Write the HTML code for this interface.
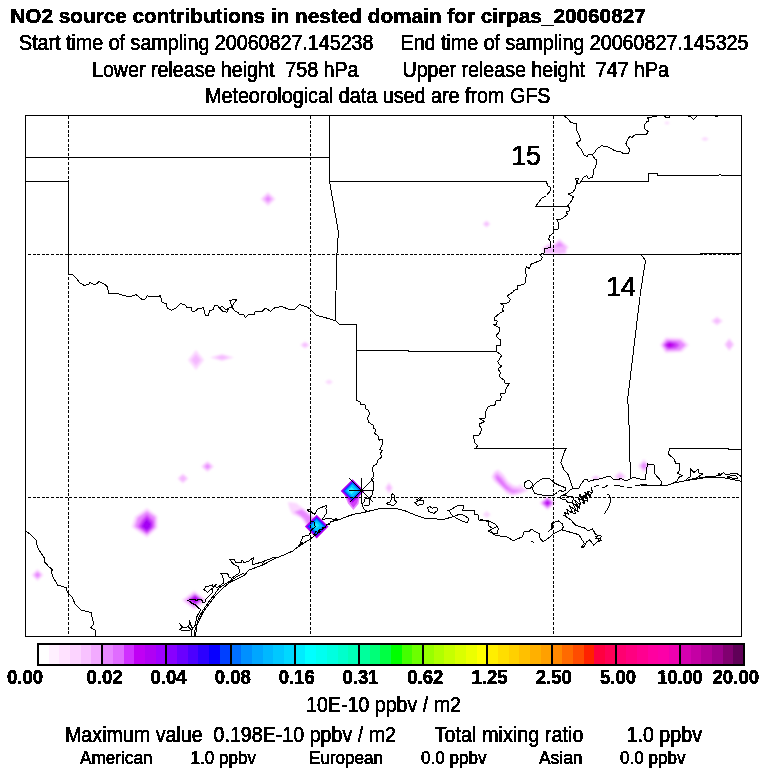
<!DOCTYPE html>
<html lang="en"><head><meta charset="utf-8"><title>NO2 source contributions in nested domain for cirpas_20060827</title>
<style>html,body{margin:0;padding:0;background:#fff;}body{width:768px;height:768px;overflow:hidden;}svg{display:block;}text{font-family:"Liberation Sans",Arial,Helvetica,sans-serif;fill:#000;white-space:pre;stroke:#000;stroke-width:0.6px;stroke-linejoin:round;}text.b{stroke-width:0.5px;}</style></head><body>
<svg width="768" height="768" viewBox="0 0 768 768">
<defs><filter id="bl" x="-30%" y="-30%" width="160%" height="160%"><feGaussianBlur stdDeviation="0.9"/></filter><filter id="bl2" x="-30%" y="-30%" width="160%" height="160%"><feGaussianBlur stdDeviation="0.55"/></filter><filter id="th" filterUnits="userSpaceOnUse" x="0" y="0" width="768" height="768" color-interpolation-filters="sRGB"><feComponentTransfer><feFuncA type="discrete" tableValues="0 0 1 1"/></feComponentTransfer></filter><clipPath id="fr"><rect x="26" y="116" width="715" height="520"/></clipPath></defs>
<rect x="0" y="0" width="768" height="768" fill="#ffffff"/>
<g clip-path="url(#fr)"><g filter="url(#bl)">
<polygon points="260.5,199.0 268.0,192.0 275.5,199.0 268.0,206.0" fill="#fbd8ff"/>
<polygon points="262.6,199.0 268.0,194.0 273.4,199.0 268.0,204.0" fill="#f4b8ff"/>
<polygon points="264.8,199.0 268.0,196.0 271.2,199.0 268.0,202.0" fill="#e888ff"/>
<polygon points="482.5,224.0 486.5,220.5 490.5,224.0 486.5,227.5" fill="#fbd8ff"/>
<polygon points="484.2,224.0 486.5,222.0 488.8,224.0 486.5,226.0" fill="#f4b8ff"/>
<polygon points="550.0,247.2 559.5,238.7 569.0,247.2 559.5,255.7" fill="#fbd8ff"/>
<polygon points="552.0,247.2 559.5,240.5 567.0,247.2 559.5,253.9" fill="#f4b8ff"/>
<polygon points="554.0,247.2 559.5,242.3 565.0,247.2 559.5,252.1" fill="#e888ff"/>
<polygon points="556.1,247.2 559.5,244.1 562.9,247.2 559.5,250.3" fill="#e888ff"/>
<polygon points="541.5,248.8 549.0,243.3 556.5,248.8 549.0,254.3" fill="#fbd8ff"/>
<polygon points="543.6,248.8 549.0,244.9 554.4,248.8 549.0,252.7" fill="#f4b8ff"/>
<polygon points="545.8,248.8 549.0,246.4 552.2,248.8 549.0,251.2" fill="#f4b8ff"/>
<polygon points="545.0,248.0 566.0,246.0 566.0,253.6 544.0,253.6" fill="#f4b8ff"/>
<polygon points="300.0,345.0 305.0,341.5 310.0,345.0 305.0,348.5" fill="#fbd8ff"/>
<polygon points="302.1,345.0 305.0,343.0 307.9,345.0 305.0,347.0" fill="#f4b8ff"/>
<polygon points="325.0,382.0 329.0,379.5 333.0,382.0 329.0,384.5" fill="#fbd8ff"/>
<polygon points="188.0,360.0 196.0,350.0 204.0,360.0 196.0,370.0" fill="#fbd8ff"/>
<polygon points="191.4,360.0 196.0,354.2 200.6,360.0 196.0,365.8" fill="#f4b8ff"/>
<polygon points="210.0,357.5 222.0,354.0 234.0,357.5 222.0,361.0" fill="#fbd8ff"/>
<polygon points="215.1,357.5 222.0,355.5 228.9,357.5 222.0,359.5" fill="#f4b8ff"/>
<polygon points="201.0,466.5 207.5,461.0 214.0,466.5 207.5,472.0" fill="#fbd8ff"/>
<polygon points="202.8,466.5 207.5,462.6 212.2,466.5 207.5,470.4" fill="#f4b8ff"/>
<polygon points="204.7,466.5 207.5,464.1 210.3,466.5 207.5,468.9" fill="#e888ff"/>
<polygon points="177.4,478.5 182.9,473.5 188.4,478.5 182.9,483.5" fill="#fbd8ff"/>
<polygon points="179.0,478.5 182.9,474.9 186.8,478.5 182.9,482.1" fill="#f4b8ff"/>
<polygon points="180.5,478.5 182.9,476.3 185.3,478.5 182.9,480.7" fill="#f4b8ff"/>
<polygon points="31.5,575.0 37.5,569.0 43.5,575.0 37.5,581.0" fill="#fbd8ff"/>
<polygon points="34.0,575.0 37.5,571.5 41.0,575.0 37.5,578.5" fill="#e888ff"/>
<polygon points="660.0,345.0 665.5,337.5 682.0,338.0 689.0,345.0 682.0,352.0 665.5,353.0" fill="#fbd8ff"/>
<polygon points="662.0,345.0 666.5,339.5 680.0,340.0 686.0,345.0 680.0,350.5 666.5,351.0" fill="#e888ff"/>
<polygon points="664.0,345.0 667.5,341.5 676.0,342.0 680.0,345.0 676.0,348.5 667.5,349.0" fill="#d040f8"/>
<polygon points="664.5,345.0 670.0,341.5 675.5,345.0 670.0,348.5" fill="#b800f0"/>
<polygon points="666.8,345.0 670.0,343.0 673.2,345.0 670.0,347.0" fill="#c000ec"/>
<polygon points="711.0,321.0 717.0,316.5 723.0,321.0 717.0,325.5" fill="#fbd8ff"/>
<polygon points="713.5,321.0 717.0,318.4 720.5,321.0 717.0,323.6" fill="#f4b8ff"/>
<polygon points="724.3,344.6 729.3,338.1 734.3,344.6 729.3,351.1" fill="#fbd8ff"/>
<polygon points="725.7,344.6 729.3,339.9 732.9,344.6 729.3,349.3" fill="#f4b8ff"/>
<polygon points="727.1,344.6 729.3,341.8 731.5,344.6 729.3,347.4" fill="#f4b8ff"/>
<polygon points="638.0,466.0 644.0,459.0 650.0,466.0 644.0,473.0" fill="#fbd8ff"/>
<polygon points="640.5,466.0 644.0,462.0 647.5,466.0 644.0,470.0" fill="#e888ff"/>
<polygon points="385.0,488.0 389.0,482.0 393.0,488.0 389.0,494.0" fill="#fbd8ff"/>
<polygon points="386.7,488.0 389.0,484.6 391.3,488.0 389.0,491.4" fill="#f4b8ff"/>
<polygon points="482.7,514.7 486.7,511.7 490.7,514.7 486.7,517.7" fill="#fbd8ff"/>
<polygon points="484.4,514.7 486.7,513.0 489.0,514.7 486.7,516.4" fill="#f4b8ff"/>
<polygon points="539.5,503.0 547.5,496.0 555.5,503.0 547.5,510.0" fill="#fbd8ff"/>
<polygon points="541.2,503.0 547.5,497.5 553.8,503.0 547.5,508.5" fill="#e888ff"/>
<polygon points="542.9,503.0 547.5,499.0 552.1,503.0 547.5,507.0" fill="#d040f8"/>
<polygon points="544.6,503.0 547.5,500.5 550.4,503.0 547.5,505.5" fill="#b800f0"/>
<polygon points="483.7,514.0 486.7,511.0 489.7,514.0 486.7,517.0" fill="#fbd8ff"/>
<polygon points="590.8,478.0 595.8,475.5 600.8,478.0 595.8,480.5" fill="#fbd8ff"/>
<polygon points="592.9,478.0 595.8,476.6 598.7,478.0 595.8,479.4" fill="#f4b8ff"/>
<polygon points="614.0,476.6 620.0,471.6 626.0,476.6 620.0,481.6" fill="#fbd8ff"/>
<polygon points="616.5,476.6 620.0,473.7 623.5,476.6 620.0,479.5" fill="#f4b8ff"/>
<polygon points="181.8,600.3 194.3,590.8 206.8,600.3 194.3,609.8" fill="#fbd8ff"/>
<polygon points="183.9,600.3 194.3,592.4 204.7,600.3 194.3,608.2" fill="#f4b8ff"/>
<polygon points="186.1,600.3 194.3,594.0 202.6,600.3 194.3,606.6" fill="#e888ff"/>
<polygon points="188.2,600.3 194.3,595.6 200.4,600.3 194.3,605.0" fill="#d040f8"/>
<polygon points="190.3,600.3 194.3,597.3 198.3,600.3 194.3,603.3" fill="#b800f0"/>
<polygon points="188.8,599.6 195.3,594.6 201.8,599.6 195.3,604.6" fill="#b800f0"/>
<polygon points="191.6,599.6 195.3,596.7 199.0,599.6 195.3,602.5" fill="#b800f0"/>
<polygon points="664.0,123.0 667.0,121.5 670.0,123.0 667.0,124.5" fill="#fbd8ff"/>
<polygon points="701.0,139.0 705.0,137.0 709.0,139.0 705.0,141.0" fill="#fbd8ff"/>
<polygon points="757.0,326.0 760.0,322.0 763.0,326.0 760.0,330.0" fill="#fbd8ff"/>
<polygon points="517.0,487.0 520.0,484.0 523.0,487.0 520.0,490.0" fill="#fbd8ff"/>
<polygon points="147.0,508.0 157.5,516.0 157.5,528.0 147.0,537.5 131.5,527.0 135.0,516.5" fill="#fbd8ff"/>
<polygon points="147.0,511.0 155.5,517.0 155.5,527.5 147.0,535.0 134.5,526.8 137.5,517.5" fill="#e888ff"/>
<polygon points="147.0,514.5 153.5,521.0 153.5,527.0 147.0,533.5 138.0,526.8 141.5,520.0" fill="#d040f8"/>
<polygon points="147.0,518.0 151.5,523.5 151.0,527.5 147.0,531.0 141.0,526.8 144.0,521.5" fill="#a400f4"/>
<polygon points="498.3,469.5 503.8,474.5 508.0,481.2 513.6,485.2 521.7,487.0 529.0,490.0 520.0,494.2 511.5,496.0 506.0,493.0 499.5,486.3 493.7,481.2 491.3,476.7 494.5,471.2" fill="#fbd8ff"/>
<polygon points="497.5,472.0 502.8,476.6 507.3,483.2 513.0,487.2 521.0,488.6 526.0,490.5 519.0,493.0 512.0,494.4 506.6,491.6 500.2,485.4 495.0,480.4 493.3,476.5 495.2,473.0" fill="#f4b8ff"/>
<polygon points="497.3,474.2 502.0,478.6 507.0,485.2 512.6,489.4 520.5,490.4 513.5,493.4 508.0,491.2 501.4,484.8 496.2,479.6 494.8,476.5" fill="#e888ff"/>
<polygon points="497.5,476.0 501.0,480.0 505.5,486.0 509.0,489.5 506.0,489.5 500.5,484.0 496.5,479.0" fill="#e070fc"/>
<polygon points="288.0,502.0 296.0,503.0 304.0,509.0 312.0,515.0 316.0,520.0 308.0,528.0 301.0,518.0 292.0,514.0 289.0,507.0" fill="#fbd8ff"/>
<polygon points="294.0,512.0 302.0,509.0 309.0,515.0 315.0,519.0 309.0,527.0 304.0,519.0 299.0,515.0" fill="#e888ff"/>
</g><g filter="url(#bl2)">
<polygon points="344.5,495.0 360.0,496.0 358.5,504.0 353.4,510.0 348.0,503.5" fill="#e888ff"/>
<polygon points="346.0,496.0 359.0,497.0 357.0,503.0 353.4,507.5 349.0,502.0" fill="#d040f8"/>
<polygon points="340.7,491.0 352.5,479.2 364.3,491.0 352.5,502.8" fill="#b800f0"/>
<polygon points="342.3,491.0 352.5,480.8 362.7,491.0 352.5,501.2" fill="#7000ff"/>
<polygon points="343.5,491.0 352.5,482.0 361.5,491.0 352.5,500.0" fill="#0040ff"/>
<polygon points="344.7,491.0 352.5,483.2 360.3,491.0 352.5,498.8" fill="#0090ff"/>
<polygon points="346.3,490.8 352.5,484.6 358.7,490.8 352.5,497.0" fill="#00c8ff"/>
<polygon points="347.9,490.6 351.5,487.0 355.1,490.6 351.5,494.2" fill="#30ecff"/>
<polygon points="304.9,526.6 316.7,514.8 328.5,526.6 316.7,538.4" fill="#b800f0"/>
<polygon points="306.7,526.6 316.7,516.6 326.7,526.6 316.7,536.6" fill="#7000ff"/>
<polygon points="307.9,526.4 316.7,517.6 325.5,526.4 316.7,535.2" fill="#0040ff"/>
<polygon points="309.3,526.2 316.7,518.8 324.1,526.2 316.7,533.6" fill="#0090ff"/>
<polygon points="310.9,526.0 316.7,520.2 322.5,526.0 316.7,531.8" fill="#00c8ff"/>
<polygon points="313.2,525.6 316.2,522.6 319.2,525.6 316.2,528.6" fill="#20e4ff"/>
</g></g>
<g stroke="#000" stroke-width="1" fill="none" shape-rendering="crispEdges" stroke-dasharray="3 1.6">
<line x1="68.5" y1="116" x2="68.5" y2="636"/>
<line x1="310.5" y1="116" x2="310.5" y2="636"/>
<line x1="553.5" y1="116" x2="553.5" y2="636"/>
<line x1="28" y1="254.5" x2="741" y2="254.5"/>
<line x1="28" y1="497.5" x2="741" y2="497.5"/>
</g>
<g stroke="#000" stroke-width="1" fill="none" shape-rendering="crispEdges" stroke-linejoin="round">
<polyline points="25.5,157.5 329.5,157.5" />
<polyline points="25.5,181.5 68.5,181.5 68.5,274.5" />
<polyline points="329.5,115.5 329.5,181.5" />
<polyline points="329.5,181.5 546.5,181.5 547.5,185.5 550.5,187.5 550.5,190.5 546.5,195.5 541.5,198.5 535.5,206.5 567.5,206.5" />
<polyline points="329.5,181.5 338.5,232.5 337.5,243.5 336.5,262.5 335.5,320.5" />
<polyline points="339.5,324.5 356.5,324.5 356.5,400.5" />
<polyline points="356.5,350.5 408.5,350.5 408.5,351.5 496.5,351.5" />
<polyline points="543.5,254.5 700.5,254.5 700.5,253.5 741.5,253.5" />
<polyline points="580.5,181.5 648.5,181.5 648.5,173.5 657.5,173.5 657.5,175.5 718.5,175.5 719.5,174.5 722.5,175.5 741.5,175.5" />
<polyline points="640.5,254.5 642.5,256.5 645.5,260.5 640.5,292.5 627.5,400.5 628.5,406.5 630.5,479.5" />
<polyline points="474.5,448.5 566.5,448.5" />
<polyline points="669.5,448.5 728.5,448.5 728.5,449.5 741.5,449.5" />
</g>
<g stroke="#000" stroke-width="1" fill="none" stroke-linejoin="round" stroke-linecap="round" clip-path="url(#fr)" shape-rendering="crispEdges">
<polyline points="68.5,274.5 72.3,274.4 76.5,278.6 79.6,282.7 83.8,285.2 88.0,284.8 90.0,282.7 95.2,284.8 99.0,281.7 104.6,284.2 107.3,287.0 108.8,293.2 117.1,293.2 124.4,295.9 131.7,296.3 135.9,294.6 142.1,299.4 145.2,299.0 147.3,295.9 153.6,296.7 157.7,296.7 160.2,295.7 162.3,302.5 166.1,303.6 167.1,307.7 171.3,310.2 175.5,308.2 180.7,303.6 184.8,304.6 186.9,307.3 191.5,307.7 192.1,311.3 196.3,310.9 197.3,308.8 203.6,307.7 205.2,315.0 208.2,316.0 209.8,310.9 213.0,309.8 214.4,305.7 217.1,305.0 219.5,308.0 222.6,311.2 226.7,312.3 228.8,308.0 232.0,307.0 235.0,311.2 238.2,312.3 239.2,314.4 243.4,314.4 245.5,317.5 248.6,314.4 253.8,315.0 255.5,311.2 262.2,311.2 265.3,308.0 270.5,311.2 274.7,307.7 282.0,306.5 288.2,309.2 294.5,309.2 299.7,304.6 307.0,307.0 310.5,309.2 316.3,315.4 324.7,317.5 335.5,320.6 339.2,324.2" />
<polyline points="232.0,307.0 229.9,300.2 237.0,299.4 234.0,303.0 232.0,307.0" />
<polyline points="219.5,308.0 222.0,306.0 226.0,310.0 228.8,308.0" />
<polyline points="356.5,400.5 359.7,401.4 361.0,404.5 365.4,405.1 366.0,408.9 368.7,410.7 369.5,414.5 367.2,418.2 368.7,422.0 371.6,424.7 372.9,423.9 373.5,428.2 376.0,429.5 374.7,433.2 378.5,436.4 379.1,440.1 382.2,439.5 382.5,444.5 379.7,449.5 382.5,450.7 380.4,453.2 381.6,457.0 377.9,460.1 376.6,464.5 373.5,465.7 372.2,470.1 373.5,473.2 372.9,477.6 371.0,478.2 371.6,480.7 373.5,481.4 373.5,489.2 372.0,494.9 370.2,498.0 365.2,498.6 364.0,501.7 362.0,504.2 364.0,509.2 366.5,511.0 365.2,513.0" />
<polyline points="370.2,498.0 369.0,505.5 364.0,506.0" />
<polyline points="564.0,115.5 569.0,120.0 570.8,122.5 576.7,124.0 576.7,130.0 580.0,137.5 580.0,140.8 576.7,142.5 577.5,145.0 581.7,150.0 584.0,155.0 587.5,156.7 588.3,154.0 592.5,155.0 595.0,159.0 596.7,160.0 595.8,166.7 594.0,169.0 592.5,177.5 588.3,178.3 586.7,175.8 583.3,177.5 580.0,183.3 577.5,184.0 578.3,178.3 575.0,178.3 576.7,181.7 575.0,189.0 572.5,192.5 568.3,194.0 573.3,196.7 571.7,200.8 567.5,205.8 568.1,205.4 569.4,208.5 569.4,211.0 566.2,211.6 567.5,214.7 561.2,219.1 556.9,219.7 558.7,222.9 558.1,229.1 553.7,229.5 553.1,233.5 549.4,236.0 548.7,239.1 550.0,241.0 550.0,247.9 545.0,248.2 544.4,252.9 539.4,254.5 542.5,257.2 540.6,260.4 531.2,264.1 529.4,268.5 526.2,266.6 525.6,271.0 526.2,276.0 525.0,282.9 523.5,284.6 517.2,285.5 517.2,289.6 513.5,290.2 512.9,292.1 507.2,295.9 510.4,299.6 509.1,302.1 504.1,304.0 500.4,303.4 504.1,305.9 502.2,309.0 503.5,311.5 500.4,312.7 494.7,317.5 494.7,320.2 497.2,320.9 496.6,324.0 493.5,324.6 499.1,327.7 499.1,332.1 496.0,335.9 499.1,339.0 500.4,339.6 500.4,345.2 496.6,345.9 496.6,351.5 501.6,355.5 497.9,361.5 499.1,364.6 502.2,365.9 497.9,369.0 500.4,372.7 499.4,376.7 504.4,380.5 505.0,383.0 509.4,383.6 506.2,388.0 505.0,393.0 500.6,393.6 501.2,396.7 500.6,400.5 495.6,401.1 495.0,404.9 488.1,406.5 485.6,411.7 485.0,418.0 479.4,418.6 484.4,421.1 483.1,422.4 480.0,423.6 479.4,425.5 481.9,429.2 479.4,434.9 475.0,435.5 473.1,436.1 474.4,439.9 474.4,442.4 477.5,445.5 476.2,448.0 474.5,448.5" />
<polyline points="592.5,155.0 595.0,151.7 597.5,148.3 601.7,145.8 607.5,146.7 615.0,150.8 620.8,151.7 624.0,154.0 628.3,153.3 630.0,150.0 625.8,144.0 628.3,138.3 630.0,136.7 631.7,137.5 635.0,135.0 646.7,134.0 648.3,131.7 645.0,129.0 644.0,125.8 646.7,121.7 649.0,120.8 647.5,117.5 655.0,116.7 658.0,115.5" />
<polyline points="664.0,115.5 666.0,117.5 669.0,117.5 670.0,115.5" />
<polyline points="687.0,115.5 691.0,117.0 693.5,119.5 696.0,117.0 698.0,115.5" />
<polyline points="715.0,115.5 717.0,117.0 719.0,115.5" />
<polyline points="566.5,448.5 565.0,450.5 560.8,462.3 563.9,469.7 568.2,474.7 572.6,487.9" />
<polyline points="572.6,488.7 578.9,488.2 581.4,483.5 585.0,479.0 587.6,479.7 588.2,481.6 594.5,479.7 602.0,478.5 607.0,476.6 610.7,476.6 613.2,479.0 617.0,479.7 621.4,478.5 625.7,481.0 630.0,479.0 633.2,477.2 639.5,479.0 644.5,479.7 645.0,480.0 647.5,464.0 654.0,465.0 655.0,474.0 661.7,481.7 660.8,485.3" />
<polyline points="640.0,485.0 653.3,485.3 668.3,485.0 672.5,483.3 677.5,480.8 678.3,477.5 682.5,475.8 677.5,473.3 679.0,470.8 679.7,464.0 675.8,463.3 674.0,459.0 668.3,454.0 669.5,448.5" />
<polyline points="594.5,486.4 598.2,485.6" />
<polyline points="602.0,487.2 605.0,487.0 607.6,485.4" />
<polyline points="614.5,485.4 619.5,486.0 623.5,486.6" />
<polyline points="626.4,487.0 631.4,487.2" />
<polyline points="635.0,485.6 640.0,485.0 647.0,484.0" />
<polyline points="672.5,483.3 685.0,480.8 688.3,477.5 690.8,476.7 690.0,468.3 694.0,472.5 698.3,469.0 699.0,473.3 702.5,474.0 697.5,477.5 688.3,480.0 706.7,476.7 718.3,475.8 719.0,473.5 720.0,475.5 723.3,472.5 726.7,475.0 731.7,473.3 737.5,474.0 741.5,476.7" />
<polyline points="685.0,480.8 706.7,477.5 720.0,477.0 730.0,479.0 741.5,481.3" />
<polyline points="727.0,477.0 732.0,475.5 736.0,476.0 738.0,478.0 734.0,478.5 727.0,477.0" />
<polyline points="607.0,494.0 609.0,495.0 610.0,497.2 610.3,500.0 610.0,503.5 607.6,509.0 604.5,513.5" />
<polyline points="532.5,484.7 531.9,486.7 530.4,488.2 528.3,488.7 526.2,488.2 524.7,486.7 524.1,484.7 524.7,482.7 526.2,481.2 528.3,480.7 530.4,481.2 531.9,482.7 532.5,484.7" />
<polyline points="532.5,489.0 533.3,485.8 537.5,481.7 542.5,478.7 550.0,479.0 555.0,483.3 560.0,485.8 565.0,487.5 565.8,490.0 562.5,491.7 560.0,490.0 557.5,492.5 553.3,495.0 543.3,495.3 535.0,493.7 532.5,489.0" />
<polyline points="572.6,488.7 569.5,490.4 565.7,494.0 561.4,495.4 560.0,498.5 565.7,499.7 568.2,502.9 572.0,502.9 573.9,497.2 567.0,496.0 561.4,495.4" />
<polyline points="195.6,636.5 196.5,626.5 199.7,619.2 203.3,611.9 210.6,601.9 217.0,593.7 224.3,586.9 230.7,581.8 240.0,577.7 244.5,575.2 249.0,570.0 262.7,565.0 276.0,558.0 284.0,555.0 292.7,551.0 297.0,547.5 309.0,539.9 321.5,530.5 325.2,526.7 331.5,521.7 340.2,519.2 346.5,516.7 354.0,514.2 364.0,512.4 371.5,510.5 380.0,508.6 386.7,508.3 395.8,508.3 405.0,510.8 415.0,515.0 425.0,518.3 436.7,519.0 445.0,519.0 453.3,516.7 460.0,514.0 465.0,515.8 469.0,519.0 467.5,522.5 463.0,521.7 456.7,518.3 451.7,515.0 450.0,511.7 446.7,510.0 450.0,510.0 457.5,505.8 464.0,505.8 462.5,510.8 468.3,510.0 474.0,510.0 474.0,514.0 478.3,515.0 479.0,520.0 486.7,520.0 495.0,524.0 498.3,528.3 497.5,533.3 493.3,533.3 490.0,530.0 495.0,527.5 488.3,530.8 495.0,535.0 503.3,536.7 506.7,536.7 513.3,540.8 522.5,536.7 524.0,531.7 529.0,531.7 531.7,529.0 535.0,531.7 539.0,533.3 540.0,538.3 543.3,541.7 548.3,538.3 553.3,534.0 561.4,529.7 578.9,534.7 582.0,539.7 584.5,543.5 581.4,547.2 583.2,547.9 586.4,542.2 589.5,539.7 593.9,545.4 596.4,542.2 599.5,541.0 601.4,536.0 595.7,534.7 592.6,529.0 588.2,531.0 584.5,527.9 575.7,525.4 570.7,519.7 563.9,515.4" />
<polyline points="480.0,519.0 488.3,521.7 489.0,526.0 492.0,528.0" />
<polyline points="191.5,636.5 191.5,630.0 195.6,624.7 196.5,617.4 200.6,609.7 197.4,607.0 195.1,604.6 192.0,603.5 190.0,601.5 187.9,600.5 190.0,599.8 194.2,599.2 197.0,601.0 198.3,599.2 201.5,599.2 202.9,602.8 204.7,602.4 206.0,599.2 212.0,592.8 212.5,588.2 207.5,592.3 205.2,590.5 203.8,589.5 205.6,586.9 212.5,585.0 213.0,587.3 216.1,584.6 215.2,586.9 217.9,587.3 223.4,583.2 223.4,580.0 222.5,575.5 220.7,573.6 227.5,573.2 229.3,577.7 231.6,578.2 240.0,572.5 238.5,566.7 233.5,564.0 229.0,559.0 234.0,559.0 236.0,562.5 241.0,562.5 242.0,560.0 244.0,562.5 249.0,561.0 253.5,557.5 252.0,565.0 262.7,561.7 273.5,557.5 276.0,558.0" />
<polyline points="194.3,636.5 195.0,630.0 197.0,623.8 198.8,617.4 202.4,611.0 208.8,601.9 215.7,592.8 218.8,588.2 225.2,584.1 230.7,580.5 238.0,576.0 243.0,573.5" />
<polyline points="262.7,565.0 263.2,561.7" />
<polyline points="179.2,622.9 182.4,627.4 179.2,629.7 187.9,631.0 191.0,629.7 187.9,626.5 189.7,623.8 189.7,620.1 190.6,624.7 192.4,628.3" />
<polyline points="181.0,625.5 184.5,628.0 187.9,626.5" />
<polyline points="297.0,548.0 302.7,543.0 300.9,541.7 302.7,536.7 309.6,534.9 310.9,530.5 315.2,526.7 314.0,521.7 310.9,521.0 310.9,511.7 308.4,511.0 307.7,509.9 310.0,509.5 311.5,512.5 314.6,514.2 317.7,509.2 325.9,505.5 327.0,505.5 325.9,508.0 326.5,513.0 324.6,516.0 322.0,519.2 330.2,518.6 335.2,519.9 333.0,521.0" />
<polyline points="300.9,541.7 299.5,545.0 297.0,548.0" />
<polyline points="314.0,534.5 316.0,531.5 318.0,532.5 319.5,529.5 322.0,530.0 323.0,527.0 325.5,527.5 327.0,524.0 329.5,524.5 330.5,521.5 333.0,522.0 335.5,519.5 337.5,520.5 336.0,518.0 334.0,520.0" />
<polyline points="392.5,494.0 394.0,495.0 394.7,500.0 396.7,502.5 394.0,505.3 388.3,504.7 386.7,503.0 390.8,501.7 391.7,495.0 392.5,494.0" />
<polyline points="415.8,499.0 419.0,500.5 424.0,500.8 423.3,504.0 417.5,505.3 415.0,502.5 418.0,501.0 415.8,499.0" />
<polyline points="417.0,497.5 420.0,499.5 422.0,497.5" />
<polyline points="427.5,507.5 430.0,506.7 432.5,508.3 436.7,507.0 438.0,510.0 434.0,513.3 429.0,511.7 427.5,507.5" />
<polyline points="548.3,531.7 551.7,528.3 551.0,523.5 558.3,520.8 562.6,524.0 563.2,527.2 561.4,529.7" />
<polyline points="552.0,522.2 553.0,527.0 551.0,530.0" />
<polyline points="531.0,541.0 534.0,542.5" />
<polyline points="25.5,531.0 30.0,534.0 36.0,540.0 37.5,547.5 44.0,557.5 45.0,562.5 51.0,569.0 52.5,576.0 57.5,585.0 66.0,587.5 67.5,592.5 72.5,597.5 75.0,604.0 81.0,610.0 91.0,612.5 92.5,619.0 94.0,624.0 90.5,627.5 95.0,630.0 95.5,636.5" />
<polyline points="50.0,567.0 52.5,570.0 51.0,572.0" />
<polyline points="591.1,487.7 592.8,492.9 587.4,491.3 590.5,496.9 584.9,492.2 587.1,499.1 581.5,496.2 585.1,501.8 578.9,498.5 580.9,505.0 574.4,500.1 578.1,506.4 572.9,503.5 576.1,510.6 569.5,505.8 572.5,512.7 566.8,509.7 568.4,514.1 564.5,512.4 566.8,517.3" stroke-width="1"/>
<polyline points="591.3,493.0 590.0,497.5 587.0,493.1 586.3,498.0 583.8,495.1 582.0,499.7 579.9,494.1 578.3,499.3" stroke-width="1"/>
<polyline points="579.6,504.1 579.7,508.7 576.8,506.2 578.3,511.6 574.4,509.1 575.4,513.6 571.0,512.5" stroke-width="1"/>
<polyline points="587.0,498.3 587.8,501.2 584.1,499.9 584.8,503.7 581.7,502.0" stroke-width="1"/>
<polyline points="595.7,536.3 598.0,536.0 595.9,538.8 599.3,538.4 598.1,540.0 601.9,540.7" stroke-width="1"/>
</g>
<g stroke="#000" stroke-width="1" fill="none" shape-rendering="crispEdges">
<line x1="361.5" y1="478" x2="361.5" y2="504"/>
<line x1="349" y1="490.5" x2="374" y2="490.5"/>
<line x1="349.5" y1="478.5" x2="373.5" y2="502.5"/>
<line x1="373.5" y1="478.5" x2="349.5" y2="502.5"/>
</g>
<rect x="25.5" y="115.5" width="716" height="521" fill="none" stroke="#000" stroke-width="1" shape-rendering="crispEdges"/>
<g shape-rendering="crispEdges">
<rect x="38.00" y="644" width="11.20" height="21" fill="#ffffff"/>
<rect x="48.70" y="644" width="11.20" height="21" fill="#fff0ff"/>
<rect x="59.39" y="644" width="11.20" height="21" fill="#ffe2ff"/>
<rect x="70.09" y="644" width="11.20" height="21" fill="#fcd4ff"/>
<rect x="80.79" y="644" width="11.20" height="21" fill="#f8c2ff"/>
<rect x="91.48" y="644" width="11.20" height="21" fill="#f2aaff"/>
<rect x="102.18" y="644" width="11.20" height="21" fill="#e888ff"/>
<rect x="112.88" y="644" width="11.20" height="21" fill="#e06cff"/>
<rect x="123.58" y="644" width="11.20" height="21" fill="#d030ff"/>
<rect x="134.27" y="644" width="11.20" height="21" fill="#c000f4"/>
<rect x="144.97" y="644" width="11.20" height="21" fill="#b000f4"/>
<rect x="155.67" y="644" width="11.20" height="21" fill="#a000ff"/>
<rect x="166.36" y="644" width="11.20" height="21" fill="#8800ff"/>
<rect x="177.06" y="644" width="11.20" height="21" fill="#6a00ff"/>
<rect x="187.76" y="644" width="11.20" height="21" fill="#4c00ff"/>
<rect x="198.45" y="644" width="11.20" height="21" fill="#2c00ff"/>
<rect x="209.15" y="644" width="11.20" height="21" fill="#0800ff"/>
<rect x="219.85" y="644" width="11.20" height="21" fill="#0040ff"/>
<rect x="230.55" y="644" width="11.20" height="21" fill="#0070ff"/>
<rect x="241.24" y="644" width="11.20" height="21" fill="#0090ff"/>
<rect x="251.94" y="644" width="11.20" height="21" fill="#00a6ff"/>
<rect x="262.64" y="644" width="11.20" height="21" fill="#00b8ff"/>
<rect x="273.33" y="644" width="11.20" height="21" fill="#00c8ff"/>
<rect x="284.03" y="644" width="11.20" height="21" fill="#00d8ff"/>
<rect x="294.73" y="644" width="11.20" height="21" fill="#00ecff"/>
<rect x="305.42" y="644" width="11.20" height="21" fill="#00ffff"/>
<rect x="316.12" y="644" width="11.20" height="21" fill="#00fff0"/>
<rect x="326.82" y="644" width="11.20" height="21" fill="#00ffe0"/>
<rect x="337.52" y="644" width="11.20" height="21" fill="#00ffcc"/>
<rect x="348.21" y="644" width="11.20" height="21" fill="#00ffb8"/>
<rect x="358.91" y="644" width="11.20" height="21" fill="#00ff9c"/>
<rect x="369.61" y="644" width="11.20" height="21" fill="#00ff78"/>
<rect x="380.30" y="644" width="11.20" height="21" fill="#00ff44"/>
<rect x="391.00" y="644" width="11.20" height="21" fill="#00ff00"/>
<rect x="401.70" y="644" width="11.20" height="21" fill="#44ff00"/>
<rect x="412.39" y="644" width="11.20" height="21" fill="#6cff00"/>
<rect x="423.09" y="644" width="11.20" height="21" fill="#98ff00"/>
<rect x="433.79" y="644" width="11.20" height="21" fill="#b0ff00"/>
<rect x="444.48" y="644" width="11.20" height="21" fill="#c6ff00"/>
<rect x="455.18" y="644" width="11.20" height="21" fill="#daff00"/>
<rect x="465.88" y="644" width="11.20" height="21" fill="#ecff00"/>
<rect x="476.58" y="644" width="11.20" height="21" fill="#ffff00"/>
<rect x="487.27" y="644" width="11.20" height="21" fill="#ffee00"/>
<rect x="497.97" y="644" width="11.20" height="21" fill="#ffde00"/>
<rect x="508.67" y="644" width="11.20" height="21" fill="#ffd000"/>
<rect x="519.36" y="644" width="11.20" height="21" fill="#ffc000"/>
<rect x="530.06" y="644" width="11.20" height="21" fill="#ffb000"/>
<rect x="540.76" y="644" width="11.20" height="21" fill="#ffa000"/>
<rect x="551.45" y="644" width="11.20" height="21" fill="#ff8800"/>
<rect x="562.15" y="644" width="11.20" height="21" fill="#ff6a00"/>
<rect x="572.85" y="644" width="11.20" height="21" fill="#ff4c00"/>
<rect x="583.55" y="644" width="11.20" height="21" fill="#ff2200"/>
<rect x="594.24" y="644" width="11.20" height="21" fill="#ff0040"/>
<rect x="604.94" y="644" width="11.20" height="21" fill="#ff0058"/>
<rect x="615.64" y="644" width="11.20" height="21" fill="#ff0070"/>
<rect x="626.33" y="644" width="11.20" height="21" fill="#ff0080"/>
<rect x="637.03" y="644" width="11.20" height="21" fill="#ff0090"/>
<rect x="647.73" y="644" width="11.20" height="21" fill="#ff00a0"/>
<rect x="658.42" y="644" width="11.20" height="21" fill="#fc00a8"/>
<rect x="669.12" y="644" width="11.20" height="21" fill="#ee00b0"/>
<rect x="679.82" y="644" width="11.20" height="21" fill="#d400b0"/>
<rect x="690.52" y="644" width="11.20" height="21" fill="#c400a4"/>
<rect x="701.21" y="644" width="11.20" height="21" fill="#b00098"/>
<rect x="711.91" y="644" width="11.20" height="21" fill="#9c008c"/>
<rect x="722.61" y="644" width="11.20" height="21" fill="#800070"/>
<rect x="733.30" y="644" width="11.20" height="21" fill="#600058"/>
<rect x="38.0" y="644" width="706.0" height="21" fill="none" stroke="#000" stroke-width="2"/>
<line x1="102.2" y1="644" x2="102.2" y2="665" stroke="#000" stroke-width="2"/>
<line x1="166.4" y1="644" x2="166.4" y2="665" stroke="#000" stroke-width="2"/>
<line x1="230.5" y1="644" x2="230.5" y2="665" stroke="#000" stroke-width="2"/>
<line x1="294.7" y1="644" x2="294.7" y2="665" stroke="#000" stroke-width="2"/>
<line x1="358.9" y1="644" x2="358.9" y2="665" stroke="#000" stroke-width="2"/>
<line x1="423.1" y1="644" x2="423.1" y2="665" stroke="#000" stroke-width="2"/>
<line x1="487.3" y1="644" x2="487.3" y2="665" stroke="#000" stroke-width="2"/>
<line x1="551.5" y1="644" x2="551.5" y2="665" stroke="#000" stroke-width="2"/>
<line x1="615.6" y1="644" x2="615.6" y2="665" stroke="#000" stroke-width="2"/>
<line x1="679.8" y1="644" x2="679.8" y2="665" stroke="#000" stroke-width="2"/>
</g>
<g filter="url(#th)">
<text x="10.3" y="22.8" font-size="20.8" font-weight="bold" class="b" textLength="635.5" lengthAdjust="spacingAndGlyphs" xml:space="preserve">NO2 source contributions in nested domain for cirpas_20060827</text>
<text x="19" y="49.9" font-size="21.3" textLength="354.5" lengthAdjust="spacingAndGlyphs" xml:space="preserve">Start time of sampling 20060827.145238</text>
<text x="400.5" y="49.9" font-size="21.3" textLength="348" lengthAdjust="spacingAndGlyphs" xml:space="preserve">End time of sampling 20060827.145325</text>
<text x="92" y="76.9" font-size="21.3" textLength="266.5" lengthAdjust="spacingAndGlyphs" xml:space="preserve">Lower release height  758 hPa</text>
<text x="402.5" y="76.9" font-size="21.3" textLength="266.5" lengthAdjust="spacingAndGlyphs" xml:space="preserve">Upper release height  747 hPa</text>
<text x="205" y="102.5" font-size="21.3" textLength="345.5" lengthAdjust="spacingAndGlyphs" xml:space="preserve">Meteorological data used are from GFS</text>
<text x="511.2" y="164.9" font-size="26.8" textLength="29.8" lengthAdjust="spacingAndGlyphs" xml:space="preserve">15</text>
<text x="606.2" y="296.2" font-size="26.8" textLength="29.8" lengthAdjust="spacingAndGlyphs" xml:space="preserve">14</text>
<text x="7" y="683.9" font-size="20.4" font-weight="bold" class="b" textLength="36.1" lengthAdjust="spacingAndGlyphs" xml:space="preserve">0.00</text>
<text x="86.5" y="683.9" font-size="20.4" font-weight="bold" class="b" textLength="36.1" lengthAdjust="spacingAndGlyphs" xml:space="preserve">0.02</text>
<text x="150.5" y="683.9" font-size="20.4" font-weight="bold" class="b" textLength="36.1" lengthAdjust="spacingAndGlyphs" xml:space="preserve">0.04</text>
<text x="214.7" y="683.9" font-size="20.4" font-weight="bold" class="b" textLength="36.1" lengthAdjust="spacingAndGlyphs" xml:space="preserve">0.08</text>
<text x="278.7" y="683.9" font-size="20.4" font-weight="bold" class="b" textLength="36.1" lengthAdjust="spacingAndGlyphs" xml:space="preserve">0.16</text>
<text x="342.5" y="683.9" font-size="20.4" font-weight="bold" class="b" textLength="36.1" lengthAdjust="spacingAndGlyphs" xml:space="preserve">0.31</text>
<text x="407.3" y="683.9" font-size="20.4" font-weight="bold" class="b" textLength="36.1" lengthAdjust="spacingAndGlyphs" xml:space="preserve">0.62</text>
<text x="471.5" y="683.9" font-size="20.4" font-weight="bold" class="b" textLength="36.1" lengthAdjust="spacingAndGlyphs" xml:space="preserve">1.25</text>
<text x="535.7" y="683.9" font-size="20.4" font-weight="bold" class="b" textLength="36.1" lengthAdjust="spacingAndGlyphs" xml:space="preserve">2.50</text>
<text x="600" y="683.9" font-size="20.4" font-weight="bold" class="b" textLength="36.1" lengthAdjust="spacingAndGlyphs" xml:space="preserve">5.00</text>
<text x="657.5" y="683.9" font-size="20.4" font-weight="bold" class="b" textLength="45.1" lengthAdjust="spacingAndGlyphs" xml:space="preserve">10.00</text>
<text x="712.5" y="683.9" font-size="20.4" font-weight="bold" class="b" textLength="46.6" lengthAdjust="spacingAndGlyphs" xml:space="preserve">20.00</text>
<text x="306" y="711.5" font-size="21.3" textLength="155" lengthAdjust="spacingAndGlyphs" xml:space="preserve">10E-10 ppbv / m2</text>
<text x="65" y="741.7" font-size="21.3" textLength="331" lengthAdjust="spacingAndGlyphs" xml:space="preserve">Maximum value  0.198E-10 ppbv / m2</text>
<text x="434.5" y="741.7" font-size="21.3" textLength="149" lengthAdjust="spacingAndGlyphs" xml:space="preserve">Total mixing ratio</text>
<text x="626.5" y="741.7" font-size="21.3" textLength="75.5" lengthAdjust="spacingAndGlyphs" xml:space="preserve">1.0 ppbv</text>
<text x="80" y="763.8" font-size="18.6" textLength="72.5" lengthAdjust="spacingAndGlyphs" xml:space="preserve">American</text>
<text x="190.5" y="763.8" font-size="18.6" textLength="65.5" lengthAdjust="spacingAndGlyphs" xml:space="preserve">1.0 ppbv</text>
<text x="309" y="763.8" font-size="18.6" textLength="74" lengthAdjust="spacingAndGlyphs" xml:space="preserve">European</text>
<text x="421" y="763.8" font-size="18.6" textLength="65.5" lengthAdjust="spacingAndGlyphs" xml:space="preserve">0.0 ppbv</text>
<text x="539" y="763.8" font-size="18.6" textLength="43.5" lengthAdjust="spacingAndGlyphs" xml:space="preserve">Asian</text>
<text x="620" y="763.8" font-size="18.6" textLength="65.5" lengthAdjust="spacingAndGlyphs" xml:space="preserve">0.0 ppbv</text>
</g>
</svg></body></html>
